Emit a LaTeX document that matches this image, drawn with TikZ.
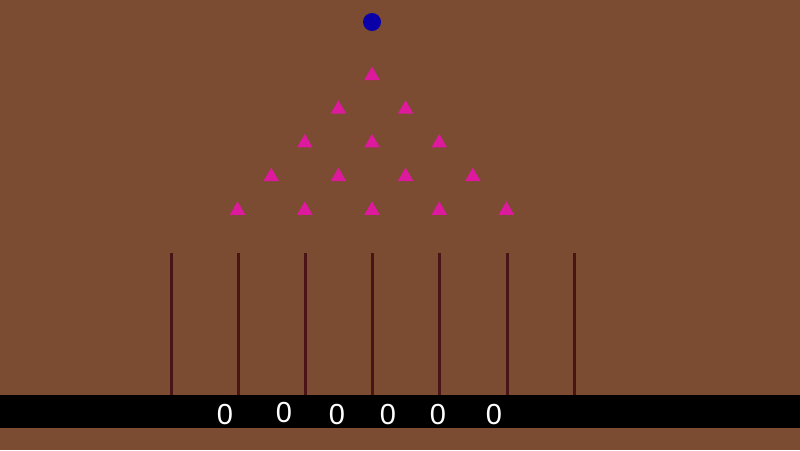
\documentclass[tikz,border=0pt]{standalone}
\usepackage{fontspec}
\setsansfont{Liberation Sans}
\usetikzlibrary{shapes.geometric}
\definecolor{board}{HTML}{7B4B32}
\definecolor{pegpink}{HTML}{DD1A9E}
\definecolor{ballblue}{HTML}{0A00A8}
\definecolor{wallred}{HTML}{4A1416}
\tikzset{
  peg/.style={regular polygon, regular polygon sides=3, fill=pegpink, inner sep=0pt, minimum size=18pt},
  wall/.style={wallred, line width=3pt},
  count/.style={white, font=\fontsize{29}{32}\sffamily, inner sep=0pt}
}
\begin{document}
\begin{tikzpicture}[x=1pt, y=-1pt]
  \fill[board] (0,0) rectangle (800,450);   % board
  \fill[black] (0,395) rectangle (800,428); % counter strip
  \node[circle, fill=ballblue, minimum size=18pt, inner sep=0pt] (ball) at (372,22) {};
  % pegs, row by row
  \foreach \r in {0,...,4}
    \foreach \k in {0,...,\r}
      \node[peg] (peg-\r-\k) at ({372 - 33.6*\r + 67.2*\k}, {75.5 + 33.7*\r}) {};
  % bin walls
  \foreach \i in {0,...,6}
    \draw[wall] ({171 + 67.2*\i},253) coordinate (top-\i) -- ({171 + 67.2*\i},395) coordinate (bot-\i);
  % counters
  \foreach \x/\y [count=\j] in {225/415,284/413,337/415,388/415,438/415,494/415}
    \node[count] (cnt-\j) at (\x,\y) {0};
\end{tikzpicture}
\end{document}
